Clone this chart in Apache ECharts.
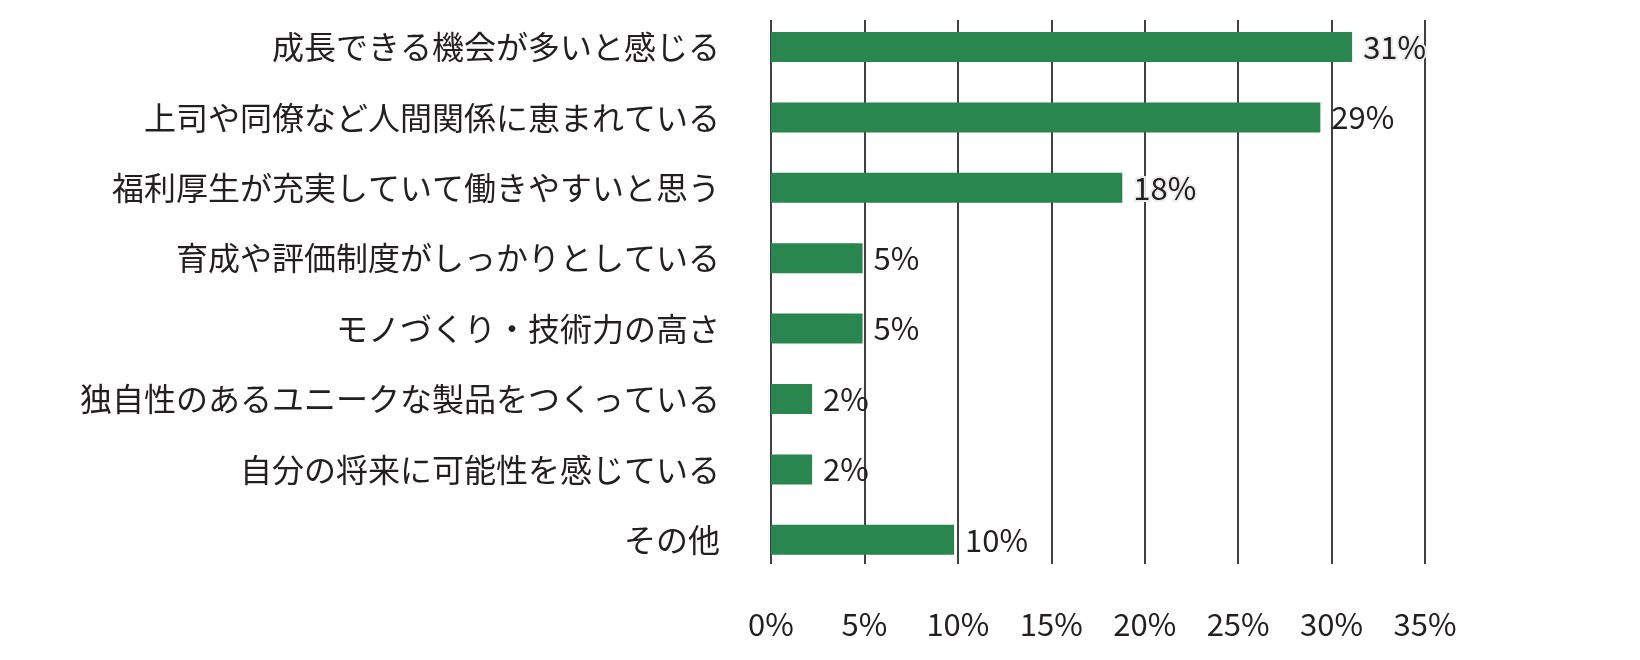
<!DOCTYPE html>
<html>
<head>
<meta charset="utf-8">
<style>
html,body{margin:0;padding:0;background:#fff;}
#chart{width:1640px;height:660px;}
</style>
<script src="https://cdn.jsdelivr.net/npm/echarts@6/dist/echarts.min.js"></script>
</head>
<body>
<div id="chart"></div>
<script>
const categories = [
  '成長できる機会が多いと感じる',
  '上司や同僚など人間関係に恵まれている',
  '福利厚生が充実していて働きやすいと思う',
  '育成や評価制度がしっかりとしている',
  'モノづくり・技術力の高さ',
  '独自性のあるユニークな製品をつくっている',
  '自分の将来に可能性を感じている',
  'その他'
];
const values = [31.1, 29.4, 18.8, 4.9, 4.9, 2.2, 2.2, 9.8];
const valueLabels = ['31%', '29%', '18%', '5%', '5%', '2%', '2%', '10%'];
const xTicks = { min: 0, max: 35, interval: 5 };

const FONT = '"Noto Sans CJK JP", "Noto Sans", sans-serif';
const TEXT = '#231f20';
const haloIdx = [0, 2];

const chart = echarts.init(document.getElementById('chart'), null, { renderer: 'canvas' });
const barData = values.map((v, i) => {
  const item = { value: v };
  if (haloIdx.indexOf(i) >= 0) {
    item.label = { textBorderColor: '#ebebeb', textBorderWidth: 4 };
  }
  return item;
});

chart.setOption({
  backgroundColor: '#ffffff',
  animation: false,
  textStyle: { fontFamily: FONT },
  grid: [
    { left: 771, width: 654, top: 20, height: 544 },
    { left: 771, width: 654, top: 11.8, height: 563.2 }
  ],
  xAxis: [
    {
      gridIndex: 0, type: 'value', min: xTicks.min, max: xTicks.max, interval: xTicks.interval,
      axisLine: { show: false }, axisTick: { show: false },
      splitLine: { show: true, lineStyle: { color: '#111111', width: 1.6 } },
      axisLabel: { formatter: '{value}%', fontSize: 31, color: TEXT, fontFamily: FONT, margin: 45 }
    },
    {
      gridIndex: 1, type: 'value', min: xTicks.min, max: xTicks.max, interval: xTicks.interval,
      show: false
    }
  ],
  yAxis: [
    { gridIndex: 0, type: 'value', min: 0, max: 1, show: false },
    {
      gridIndex: 1, type: 'category', data: categories, inverse: true,
      axisLine: { show: false }, axisTick: { show: false }, splitLine: { show: false },
      axisLabel: { fontSize: 32, color: TEXT, fontFamily: FONT, margin: 51 }
    }
  ],
  series: [{
    type: 'bar',
    xAxisIndex: 1, yAxisIndex: 1,
    data: barData,
    barWidth: 30,
    itemStyle: { color: '#28864e' },
    label: {
      show: true, position: 'right', distance: 11,
      fontSize: 31, color: TEXT, fontFamily: FONT,
      formatter: p => valueLabels[p.dataIndex]
    }
  }]
});
</script>
</body>
</html>
